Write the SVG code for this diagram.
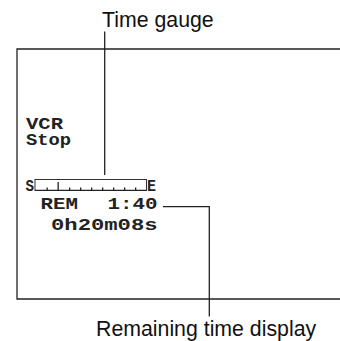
<svg xmlns="http://www.w3.org/2000/svg" width="340" height="341" viewBox="0 0 340 341">
<style>
.lbl{font-family:"Liberation Sans",Arial,sans-serif;font-size:21.3px;fill:#111}
.lcd{font-family:"Courier New","Liberation Mono",monospace;font-size:16px;font-weight:bold;fill:#222}
.ln{stroke:#222;stroke-width:1.3;fill:none}
.thin{stroke:#333;stroke-width:1;fill:none}
</style>
<rect width="340" height="341" fill="#fff"/>
<g id="screen">
<path class="ln" d="M340,49 H17 V299 H340"/>
<text class="lcd" x="26" y="129" textLength="37" lengthAdjust="spacingAndGlyphs">VCR</text>
<text class="lcd" x="26" y="145" textLength="45" lengthAdjust="spacingAndGlyphs">Stop</text>
</g>
<g id="gauge">
<text class="lcd" x="25.5" y="190.7" textLength="8.5" lengthAdjust="spacingAndGlyphs">S</text>
<rect class="thin" x="35" y="179.5" width="111.5" height="11"/>
<line x1="35" y1="190.3" x2="146.5" y2="190.3" stroke="#222" stroke-width="1.2"/>
<g fill="#222">
<rect x="46.5" y="187.5" width="1.3" height="2.5"/>
<rect x="57.5" y="182" width="1.3" height="8"/>
<rect x="69" y="187.5" width="1.3" height="2.5"/>
<rect x="80" y="187.5" width="1.3" height="2.5"/>
<rect x="91" y="187.5" width="1.3" height="2.5"/>
<rect x="102" y="187.5" width="1.3" height="2.5"/>
<rect x="113" y="187.5" width="1.3" height="2.5"/>
<rect x="124" y="187.5" width="1.3" height="2.5"/>
<rect x="135" y="187.5" width="1.3" height="2.5"/>
</g>
<text class="lcd" x="147" y="190.7" textLength="9" lengthAdjust="spacingAndGlyphs">E</text>
</g>
<g id="remaining">
<text class="lcd" x="40.5" y="209.3" textLength="37.5" lengthAdjust="spacingAndGlyphs">REM</text>
<text class="lcd" x="107.5" y="209.3" textLength="50" lengthAdjust="spacingAndGlyphs">1:40</text>
<text class="lcd" x="51" y="229.5" textLength="106.5" lengthAdjust="spacingAndGlyphs">0h20m08s</text>
</g>
<g id="label-time-gauge">
<text class="lbl" x="102" y="26.7">Time gauge</text>
</g>
<g id="label-remaining">
<text class="lbl" x="96" y="335.5">Remaining time display</text>
</g>
<g id="connectors">
<line class="ln" x1="104.7" y1="31.5" x2="104.7" y2="175"/>
<path class="ln" d="M163,206.7 H209.3 V316.5"/>
</g>
</svg>
